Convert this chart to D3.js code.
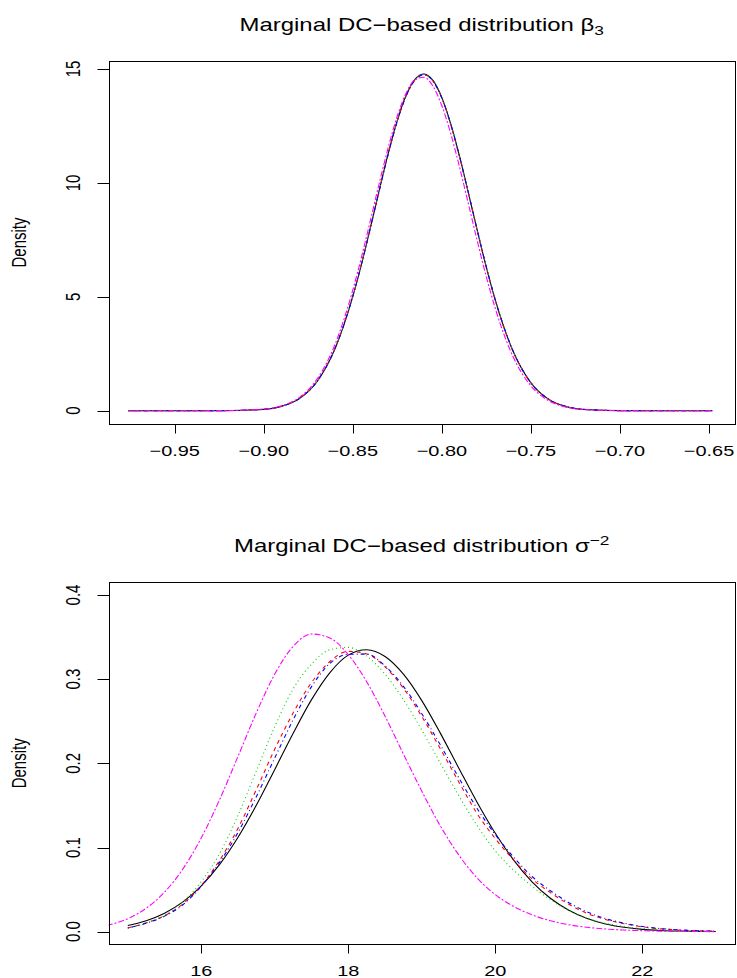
<!DOCTYPE html>
<html><head><meta charset="utf-8">
<script src="https://cdn.jsdelivr.net/npm/d3@7"></script>
<style>body{margin:0;background:#fff}svg{display:block}</style>
</head><body><svg id="chart" width="737" height="978"></svg>
<script>
// ---------- data: beta_3 panel ----------
const betaX = [-0.976,-0.95,-0.925,-0.90,-0.89,-0.88,-0.87,-0.86,-0.85,-0.845,-0.84,-0.835,-0.83,-0.825,-0.82,-0.815,-0.81,-0.805,-0.80,-0.795,-0.79,-0.785,-0.78,-0.775,-0.77,-0.76,-0.75,-0.74,-0.73,-0.72,-0.70,-0.675,-0.648];
const betaBlack   = [0,0,0.002,0.059,0.190,0.528,1.283,2.716,5.015,6.472,8.071,9.727,11.326,12.745,13.856,14.558,14.780,14.498,13.742,12.587,11.141,9.529,7.875,6.287,4.851,2.606,1.221,0.498,0.177,0.055,0.004,0,0];
const betaRed     = [0,0,0.003,0.063,0.198,0.541,1.301,2.735,5.030,6.478,8.068,9.712,11.300,12.713,13.822,14.523,14.745,14.468,13.718,12.571,11.133,9.527,7.878,6.293,4.858,2.612,1.226,0.502,0.180,0.057,0.005,0,0];
const betaGreen   = [0,0,0.002,0.061,0.194,0.535,1.292,2.726,5.022,6.475,8.070,9.720,11.314,12.730,13.841,14.542,14.762,14.482,13.728,12.577,11.135,9.527,7.876,6.290,4.854,2.609,1.223,0.500,0.178,0.056,0.004,0,0];
const betaBlue    = [0,0,0.003,0.062,0.196,0.538,1.296,2.730,5.025,6.474,8.064,9.708,11.297,12.712,13.823,14.525,14.748,14.474,13.726,12.580,11.142,9.537,7.889,6.304,4.868,2.620,1.230,0.504,0.181,0.058,0.005,0,0];
const betaMagenta = [0,0,0.002,0.067,0.213,0.583,1.396,2.912,5.294,6.780,8.390,10.032,11.588,12.936,13.951,14.538,14.640,14.243,13.387,12.159,10.672,9.050,7.415,5.868,4.489,2.369,1.090,0.436,0.152,0.046,0.003,0,0];
const betaXTicks = [-0.95,-0.90,-0.85,-0.80,-0.75,-0.70,-0.65];
const betaXLabels = ["\u22120.95","\u22120.90","\u22120.85","\u22120.80","\u22120.75","\u22120.70","\u22120.65"];
const betaYTicks = [0,5,10,15];
const betaYLabels = ["0","5","10","15"];

// ---------- data: sigma^-2 panel ----------
const sigmaX = [15.00,15.25,15.50,15.75,16.00,16.25,16.50,16.75,17.00,17.25,17.50,17.75,18.00,18.25,18.50,18.75,19.00,19.25,19.50,19.75,20.00,20.25,20.50,20.75,21.00,21.25,21.50,21.75,22.00,22.25,22.50,22.75,23.00];
const sigmaBlack = [0.0074,0.0131,0.0220,0.0354,0.0545,0.0800,0.1123,0.1505,0.1928,0.2358,0.2757,0.3079,0.3286,0.3350,0.3269,0.3059,0.2745,0.2362,0.1949,0.1541,0.1169,0.0851,0.0593,0.0397,0.0255,0.0157,0.0092,0.0052,0.0028,0.0015,0.0008,0.0004,0.0002];
const sigmaRed   = [0.0045,0.0105,0.0190,0.0330,0.0550,0.0850,0.1230,0.1690,0.2170,0.2600,0.2960,0.3210,0.3330,0.3300,0.3147,0.2892,0.2557,0.2177,0.1784,0.1407,0.1106,0.0851,0.0627,0.0464,0.0327,0.0217,0.0145,0.0095,0.0058,0.0034,0.0020,0.0011,0.0006];
const sigmaGreen = [0.0042,0.0102,0.0198,0.0354,0.0596,0.0929,0.1383,0.1911,0.2438,0.2886,0.3179,0.3350,0.3378,0.3274,0.3060,0.2757,0.2395,0.2007,0.1621,0.1263,0.0960,0.0730,0.0540,0.0380,0.0250,0.0160,0.0100,0.0062,0.0038,0.0023,0.0013,0.0008,0.0004];
const sigmaBlue  = [0.0045,0.0100,0.0185,0.0320,0.0540,0.0826,0.1180,0.1606,0.2066,0.2518,0.2912,0.3187,0.3295,0.3298,0.3158,0.2915,0.2590,0.2223,0.1834,0.1467,0.1153,0.0885,0.0656,0.0487,0.0345,0.0235,0.0155,0.0102,0.0062,0.0037,0.0022,0.0012,0.0007];
const sigmaXMagenta = [14.50,14.75,15.00,15.25,15.50,15.75,16.00,16.25,16.50,16.75,17.00,17.25,17.50,17.75,18.00,18.25,18.50,18.75,19.00,19.25,19.50,19.75,20.00,20.25,20.50,20.75,21.00,21.25,21.50,21.75,22.00,22.25,22.50,22.75,23.00];
const sigmaMagenta = [0.0040,0.0082,0.0155,0.0279,0.0470,0.0746,0.1115,0.1571,0.2084,0.2603,0.3061,0.3390,0.3536,0.3489,0.3292,0.2969,0.2560,0.2110,0.1670,0.1260,0.0915,0.0640,0.0440,0.0300,0.0200,0.0130,0.0083,0.0052,0.0032,0.0020,0.0012,0.0007,0.0004,0.0002,0.0001];
const sigmaXTicks = [16,18,20,22];
const sigmaXLabels = ["16","18","20","22"];
const sigmaYTicks = [0,0.1,0.2,0.3,0.4];
const sigmaYLabels = ["0.0","0.1","0.2","0.3","0.4"];

// ---------- styles ----------
const seriesStyle = [
  {color:"#000000", dash:null},
  {color:"#FF0000", dash:"4,4"},
  {color:"#00CD00", dash:"1,3"},
  {color:"#0000FF", dash:"1,3,4,3"},
  {color:"#FF00FF", dash:"2,2,6,2"}
];
const SX = 1.33; // horizontal stretch of the reference's text
const FONT = "'Liberation Sans', Arial, Helvetica, sans-serif";

const svg = d3.select("#chart");
svg.append("rect").attr("width",737).attr("height",978).attr("fill","#fff");

function panel(cfg){
  const g = svg.append("g");
  const x = d3.scaleLinear().domain(cfg.xDom).range(cfg.xRange);
  const y = d3.scaleLinear().domain(cfg.yDom).range(cfg.yRange);
  const clipId = "clip"+cfg.id;
  svg.append("clipPath").attr("id",clipId).append("rect")
    .attr("x",cfg.box.l).attr("y",cfg.box.t)
    .attr("width",cfg.box.r-cfg.box.l).attr("height",cfg.box.b-cfg.box.t);
  const line = d3.line().x(d=>x(d[0])).y(d=>y(d[1])).curve(d3.curveMonotoneX);
  const lg = g.append("g").attr("clip-path",`url(#${clipId})`);
  cfg.series.forEach((s,i)=>{
    const pts = s.x.map((v,j)=>[v,s.y[j]]);
    const st = seriesStyle[i];
    lg.append("path").attr("d",line(pts)).attr("fill","none")
      .attr("stroke",st.color).attr("stroke-width",1.1)
      .attr("stroke-dasharray",st.dash);
  });
  // box
  const L = Math.round(cfg.box.l)+0.5, R = Math.round(cfg.box.r)+0.5,
        T = Math.round(cfg.box.t)+0.5, B = Math.round(cfg.box.b)+0.5;
  g.append("rect").attr("x",L).attr("y",T).attr("width",R-L).attr("height",B-T)
    .attr("fill","none").attr("stroke","#000").attr("stroke-width",1);
  // x axis ticks
  cfg.xTicks.forEach((t,i)=>{
    const px = Math.round(x(t))+0.5;
    g.append("line").attr("x1",px).attr("x2",px).attr("y1",B).attr("y2",B+9)
      .attr("stroke","#000").attr("stroke-width",1);
    g.append("text").attr("transform",`translate(${x(t)},${cfg.box.b+31.7}) scale(${SX},1)`)
      .attr("text-anchor","middle").attr("font-family",FONT).attr("font-size",15)
      .attr("fill","#000").text(cfg.xLabels[i]);
  });
  // y axis ticks
  cfg.yTicks.forEach((t,i)=>{
    const py = Math.round(y(t))+0.5;
    g.append("line").attr("x1",L-12).attr("x2",L).attr("y1",py).attr("y2",py)
      .attr("stroke","#000").attr("stroke-width",1);
    g.append("text").attr("transform",`translate(${cfg.box.l-28.7},${y(t)}) scale(${SX},1) rotate(-90)`)
      .attr("text-anchor","middle").attr("font-family",FONT).attr("font-size",15)
      .attr("fill","#000").text(cfg.yLabels[i]);
  });
  // y label
  g.append("text").attr("transform",`translate(26,${(cfg.box.t+cfg.box.b)/2}) scale(${SX},1) rotate(-90)`)
    .attr("text-anchor","middle").attr("font-family",FONT).attr("font-size",15)
    .attr("fill","#000").text("Density");
  // title
  const tt = g.append("text").attr("transform",`translate(${(cfg.box.l+cfg.box.r)/2},${cfg.box.t-30}) scale(${SX},1)`)
    .attr("text-anchor","middle").attr("font-family",FONT).attr("font-size",18).attr("fill","#000");
  tt.append("tspan").text(cfg.title);
  tt.append("tspan").text(cfg.sym);
  tt.append("tspan").attr("font-size",13).attr("dy",cfg.scriptDy).text(cfg.script);
}

panel({
  id:"beta",
  box:{l:108.7,r:734.7,t:60.7,b:424.3},
  xDom:[-0.95,-0.65], xRange:[174.7,709],
  yDom:[0,15], yRange:[410.7,69],
  xTicks:betaXTicks, xLabels:betaXLabels, yTicks:betaYTicks, yLabels:betaYLabels,
  title:"Marginal DC\u2212based distribution ", sym:"\u03b2", script:"3", scriptDy:4,
  series:[
    {x:betaX,y:betaBlack},{x:betaX,y:betaRed},{x:betaX,y:betaGreen},
    {x:betaX,y:betaBlue},{x:betaX,y:betaMagenta}
  ]
});

panel({
  id:"sigma",
  box:{l:108.7,r:734.7,t:582.3,b:944.3},
  xDom:[16,22], xRange:[201.3,642.3],
  yDom:[0,0.4], yRange:[931.7,595],
  xTicks:sigmaXTicks, xLabels:sigmaXLabels, yTicks:sigmaYTicks, yLabels:sigmaYLabels,
  title:"Marginal DC\u2212based distribution ", sym:"\u03c3", script:"\u22122", scriptDy:-7,
  series:[
    {x:sigmaX,y:sigmaBlack},{x:sigmaX,y:sigmaRed},{x:sigmaX,y:sigmaGreen},
    {x:sigmaX,y:sigmaBlue},{x:sigmaXMagenta,y:sigmaMagenta}
  ]
});
</script></body></html>
